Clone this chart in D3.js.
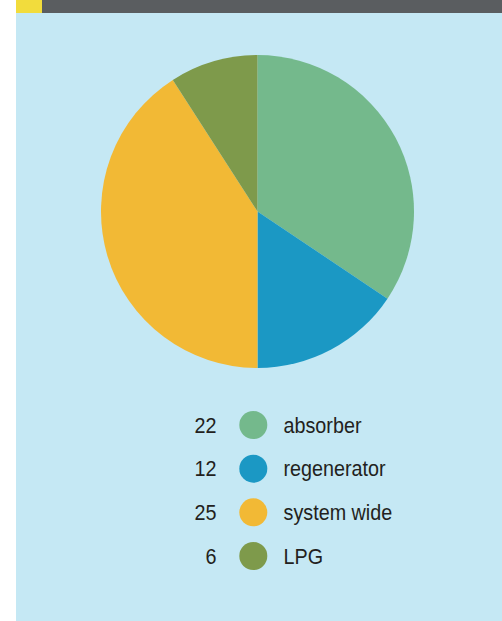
<!DOCTYPE html>
<html>
<head>
<meta charset="utf-8">
<script src="https://cdn.jsdelivr.net/npm/d3@7"></script>
<style>
  body { margin: 0; background: #fff; }
  svg { display: block; }
</style>
</head>
<body>
<svg id="chart" width="502" height="621"></svg>
<script>
// categories and counts shown in the legend
const categories = ['absorber', 'regenerator', 'system wide', 'LPG']
const counts = [22, 12, 25, 6]
// slice shares as drawn in the pie (percent)
const shares = [34.4, 15.6, 40.9, 9.1]
const colors = ['#74b98c', '#1b98c4', '#f2b935', '#7e9a4b']

let svg = d3.select('#chart')
let width = +svg.attr('width'),
    height = +svg.attr('height')

// panel background
svg.append('rect')
  .attr('x', 16).attr('y', 0)
  .attr('width', width - 16).attr('height', height)
  .attr('fill', '#c5e8f4')

// header strip
svg.append('rect')
  .attr('x', 16).attr('y', 0)
  .attr('width', width - 16).attr('height', 13)
  .attr('fill', '#5a5d60')
svg.append('rect')
  .attr('x', 16).attr('y', 0)
  .attr('width', 26).attr('height', 13)
  .attr('fill', '#f2dc3c')

let data = categories.map((c, i) => ({ name: c, count: counts[i], share: shares[i], color: colors[i] }))

let pie = d3.pie()
  .sort(null)
  .value(d => d.share)

let arc = d3.arc()
  .innerRadius(0)
  .outerRadius(156.5)

svg.append('g')
  .attr('transform', 'translate(257.5,211.5)')
  .selectAll('path')
  .data(pie(data))
  .enter().append('path')
  .attr('d', arc)
  .attr('fill', d => d.data.color)

// legend
let y = d3.scalePoint()
  .domain(categories)
  .range([425, 556])

let font = '"Liberation Sans", Arial, sans-serif'
let squeeze = 0.92

let row = svg.append('g')
  .selectAll('g')
  .data(data)
  .enter().append('g')
  .attr('transform', d => `translate(0,${y(d.name)})`)

row.append('g')
  .attr('transform', `translate(216.5,0) scale(${squeeze},1)`)
  .append('text')
  .attr('y', 7.5)
  .attr('text-anchor', 'end')
  .attr('font-family', font)
  .attr('font-size', 21.5)
  .attr('fill', '#231f20')
  .text(d => d.count)

row.append('circle')
  .attr('cx', 253.3)
  .attr('cy', 0)
  .attr('r', 14)
  .attr('fill', d => d.color)

row.append('g')
  .attr('transform', `translate(283.5,0) scale(${squeeze},1)`)
  .append('text')
  .attr('y', 7.5)
  .attr('font-family', font)
  .attr('font-size', 21.5)
  .attr('fill', '#231f20')
  .text(d => d.name)
</script>
</body>
</html>
